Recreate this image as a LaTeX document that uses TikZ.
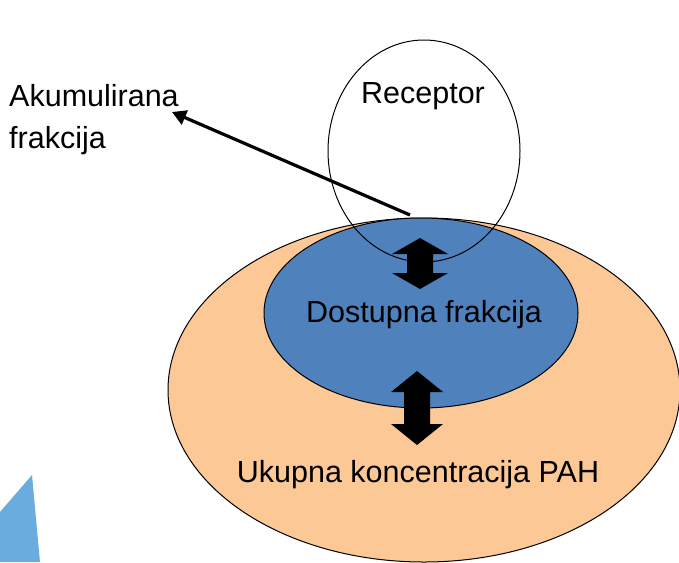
\documentclass[tikz,border=0pt]{standalone}
\usepackage{fontspec}
\setmainfont{Liberation Sans}
\usetikzlibrary{shapes.geometric,arrows.meta}
\definecolor{outerfill}{RGB}{252,200,150}
\definecolor{innerfill}{RGB}{79,129,189}
\definecolor{cornerblue}{RGB}{106,172,222}
\tikzset{
  blob/.style={ellipse, draw=black, line width=1pt, inner sep=0pt},
  lbl/.style={font=\fontsize{30.5pt}{35pt}\selectfont, inner sep=0pt},
  dblarrow/.style={fill=black}
}
\begin{document}
\begin{tikzpicture}[x=1pt,y=-1pt]
\useasboundingbox (0,0) rectangle (679,562);
% corner shape
\fill[cornerblue] (0,512) -- (32,475) -- (40,562) -- (0,562) -- cycle;
% ellipses
\node[blob, fill=outerfill, minimum width=512pt, minimum height=344pt] (outer) at (424,390) {};
\node[blob, fill=innerfill, minimum width=314pt, minimum height=190pt] (inner) at (421,313) {};
\node[blob, minimum width=192pt, minimum height=222pt] (receptor) at (424,151) {};
% texts
\node[lbl] (rtxt) at (423,96) {Receptor};
\node[lbl] (dtxt) at (424,315) {Dostupna frakcija};
\node[lbl] (utxt) at (418,475) {Ukupna koncentracija PAH};
\node[lbl, anchor=base west] (akum) at (9,106) {Akumulirana};
\node[lbl, anchor=base west] (frak) at (9,148) {frakcija};
% accumulation arrow
\coordinate (astart) at (410,215);
\coordinate (aend) at (172,112);
\draw[line width=3.2pt, -{Triangle[length=14pt,width=15pt]}] (astart) -- (aend);
% double arrows
\fill[dblarrow] (420,238) -- (448,254) -- (433,254) -- (433,273) -- (448,273) -- (420,289)
  -- (392,273) -- (407,273) -- (407,254) -- (392,254) -- cycle;
\fill[dblarrow] (417,371) -- (443,392) -- (430,392) -- (430,424) -- (443,424) -- (417,445)
  -- (391,424) -- (404,424) -- (404,392) -- (391,392) -- cycle;
\end{tikzpicture}
\end{document}
